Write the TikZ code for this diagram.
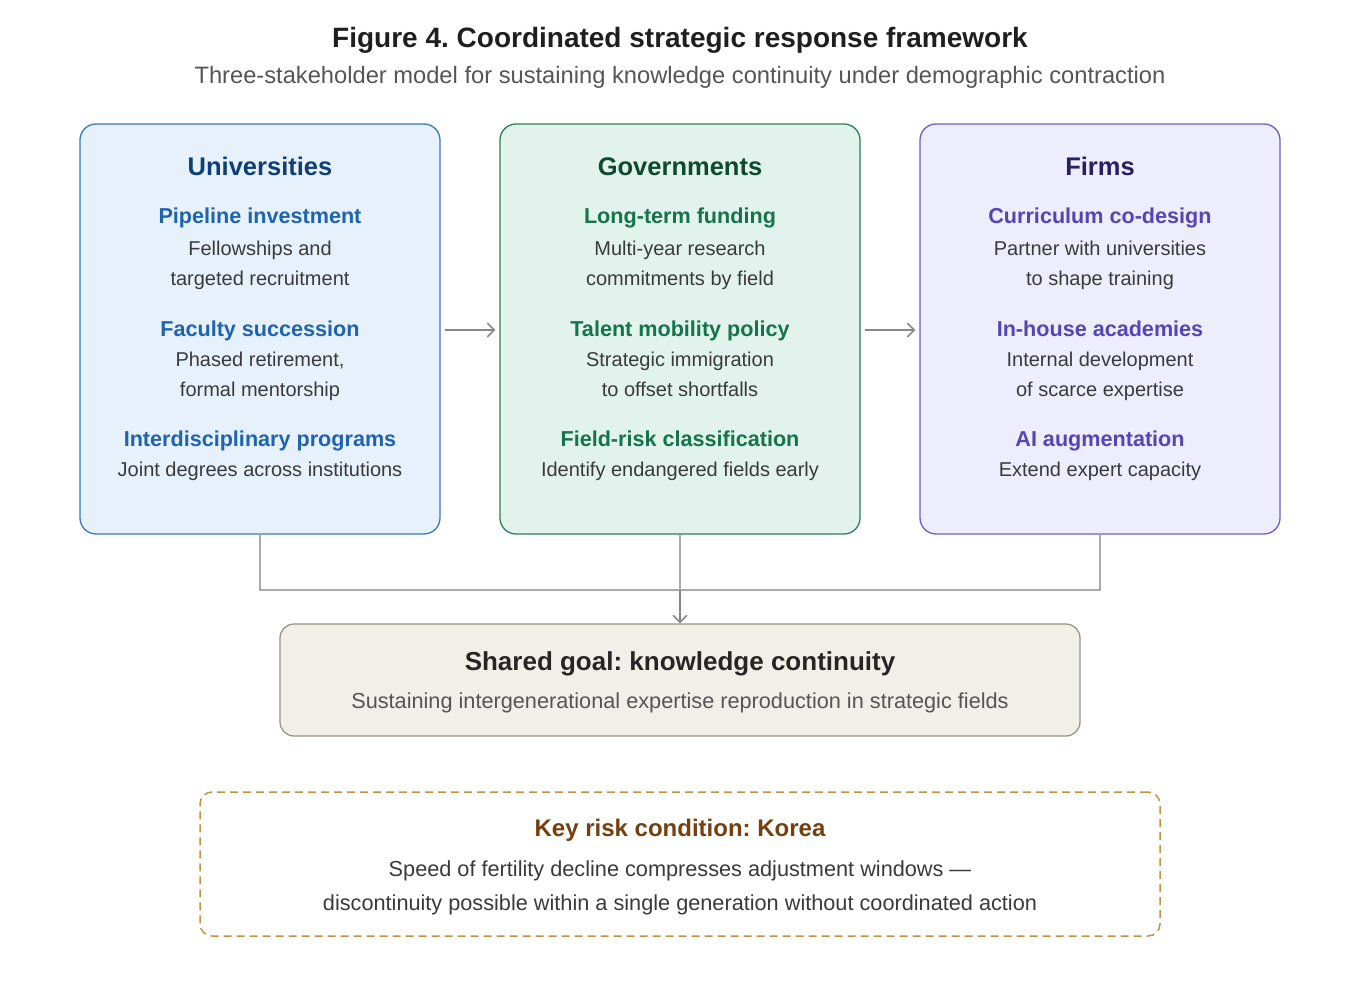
\documentclass[tikz,border=0pt]{standalone}
\usepackage{fontspec}
\setmainfont{Liberation Sans}
\usetikzlibrary{arrows.meta}
\frenchspacing
\definecolor{ubord}{HTML}{3A78BF}
\definecolor{ufill}{HTML}{E7F1FB}
\definecolor{uhead}{HTML}{0F3F78}
\definecolor{usub}{HTML}{1F64B0}
\definecolor{gbord}{HTML}{2E7D5B}
\definecolor{gfill}{HTML}{E1F3EC}
\definecolor{ghead}{HTML}{0E4A30}
\definecolor{gsub}{HTML}{16744C}
\definecolor{fbord}{HTML}{6B5FC7}
\definecolor{ffill}{HTML}{EEEDFD}
\definecolor{fhead}{HTML}{2A1F66}
\definecolor{fsub}{HTML}{5545B5}
\definecolor{goalfill}{HTML}{F2EFE8}
\definecolor{goalbord}{HTML}{9A9488}
\definecolor{riskbord}{HTML}{C8903F}
\definecolor{riskhead}{HTML}{74400F}
\definecolor{bodytext}{HTML}{3A3A3A}
\definecolor{subtext}{HTML}{555555}
\definecolor{conn}{HTML}{AAAAAA}
\definecolor{arr}{HTML}{888888}
\tikzset{
  panel/.style={draw, line width=1.3pt, rounded corners=16pt, minimum width=360pt, minimum height=410pt, inner sep=0pt},
  headtxt/.style={anchor=base, font=\fontsize{25.5}{30}\selectfont\bfseries},
  subtxt/.style={anchor=base, font=\fontsize{21.6}{26}\selectfont\bfseries},
  bodytxt/.style={anchor=base, font=\fontsize{20}{24}\selectfont, text=bodytext},
  connline/.style={draw=conn, line width=1.5pt},
  flowarrow/.style={draw=arr, line width=1.5pt, -{Straight Barb[length=7pt,width=14pt,line width=1.5pt]}}
}
\begin{document}
\begin{tikzpicture}[x=1pt,y=-1pt]
\useasboundingbox[fill=white] (0,0) rectangle (1360,1000);
% title
\node[anchor=base, font=\fontsize{28}{32}\selectfont\bfseries, text=black!88] (title) at (680,48) {Figure 4. Coordinated strategic response framework};
\node[anchor=base, font=\fontsize{23.7}{28}\selectfont, text=subtext] (subtitle) at (680,84) {Three-stakeholder model for sustaining knowledge continuity under demographic contraction};
% panels
\node[panel, draw=ubord, fill=ufill] (uni) at (260,329) {};
\node[panel, draw=gbord, fill=gfill] (gov) at (680,329) {};
\node[panel, draw=fbord, fill=ffill] (firm) at (1100,329) {};
% universities
\node[headtxt, text=uhead] (uh) at (260,176) {Universities};
\node[subtxt, text=usub] (u1) at (260,224) {Pipeline investment};
\node[bodytxt] (u1a) at (260,256) {Fellowships and};
\node[bodytxt] (u1b) at (260,286) {targeted recruitment};
\node[subtxt, text=usub] (u2) at (260,336) {Faculty succession};
\node[bodytxt] (u2a) at (260,366) {Phased retirement,};
\node[bodytxt] (u2b) at (260,396) {formal mentorship};
\node[subtxt, text=usub] (u3) at (260,446) {Interdisciplinary programs};
\node[bodytxt] (u3a) at (260,476) {Joint degrees across institutions};
% governments
\node[headtxt, text=ghead] (gh) at (680,176) {Governments};
\node[subtxt, text=gsub] (g1) at (680,224) {Long-term funding};
\node[bodytxt] (g1a) at (680,256) {Multi-year research};
\node[bodytxt] (g1b) at (680,286) {commitments by field};
\node[subtxt, text=gsub] (g2) at (680,336) {Talent mobility policy};
\node[bodytxt] (g2a) at (680,366) {Strategic immigration};
\node[bodytxt] (g2b) at (680,396) {to offset shortfalls};
\node[subtxt, text=gsub] (g3) at (680,446) {Field-risk classification};
\node[bodytxt] (g3a) at (680,476) {Identify endangered fields early};
% firms
\node[headtxt, text=fhead] (fh) at (1100,176) {Firms};
\node[subtxt, text=fsub] (f1) at (1100,224) {Curriculum co-design};
\node[bodytxt] (f1a) at (1100,256) {Partner with universities};
\node[bodytxt] (f1b) at (1100,286) {to shape training};
\node[subtxt, text=fsub] (f2) at (1100,336) {In-house academies};
\node[bodytxt] (f2a) at (1100,366) {Internal development};
\node[bodytxt] (f2b) at (1100,396) {of scarce expertise};
\node[subtxt, text=fsub] (f3) at (1100,446) {AI augmentation};
\node[bodytxt] (f3a) at (1100,476) {Extend expert capacity};
% arrows between panels
\draw[flowarrow] ([xshift=4pt,yshift=-1pt]uni.east) -- ([xshift=-4pt,yshift=-1pt]gov.west);
\draw[flowarrow] ([xshift=4pt,yshift=-1pt]gov.east) -- ([xshift=-4pt,yshift=-1pt]firm.west);
% goal box
\node[draw=goalbord, fill=goalfill, line width=1.3pt, rounded corners=14pt, minimum width=800pt, minimum height=112pt, inner sep=0pt] (goal) at (680,680) {};
\node[anchor=base, font=\fontsize{26}{30}\selectfont\bfseries, text=black!85] (goalt) at (680,670) {Shared goal: knowledge continuity};
\node[anchor=base, font=\fontsize{21.7}{26}\selectfont, text=subtext] (goals) at (680,708) {Sustaining intergenerational expertise reproduction in strategic fields};
% connectors
\coordinate (jl) at (260,590);
\coordinate (jr) at (1100,590);
\draw[connline] (uni.south) -- (jl) -- (jr) -- (firm.south);
\draw[connline] (gov.south) -- (680,598);
\draw[flowarrow] (680,590) -- (goal.north);
% risk box
\node[draw=riskbord, line width=1.5pt, dash pattern=on 8pt off 5pt, rounded corners=12pt, minimum width=960pt, minimum height=144pt, inner sep=0pt] (risk) at (680,864) {};
\node[anchor=base, font=\fontsize{24}{28}\selectfont\bfseries, text=riskhead] (riskt) at (680,836) {Key risk condition: Korea};
\node[anchor=base, font=\fontsize{21.7}{26}\selectfont, text=bodytext] (risk1) at (680,876) {Speed of fertility decline compresses adjustment windows —};
\node[anchor=base, font=\fontsize{21.7}{26}\selectfont, text=bodytext] (risk2) at (680,910) {discontinuity possible within a single generation without coordinated action};
\end{tikzpicture}
\end{document}
